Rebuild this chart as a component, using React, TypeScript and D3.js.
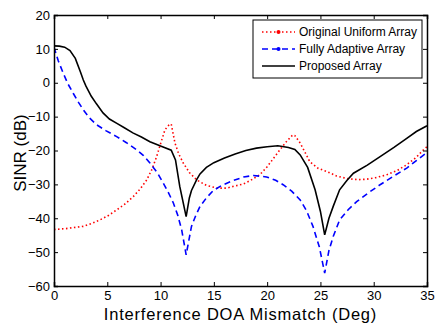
import React, { useEffect, useRef } from 'react';
import * as d3 from 'd3';

// Original Uniform Array (red dotted)
const origX = [0, 1, 2, 2.75, 3.5, 4.3, 5.1, 5.9, 6.7, 7.44, 8.1, 8.7, 9.2, 9.63, 10.0, 10.41, 10.8, 11.0, 11.35, 11.7, 12.13, 12.7, 13.4, 14.3, 15.3, 16.2, 16.8, 17.76, 18.4, 19.3, 20.0, 20.6, 21.2, 21.8, 22.4, 22.6, 23.1, 23.5, 24.0, 24.8, 25.6, 26.5, 27.5, 28.5, 29.3, 30.2, 31.2, 32.2, 33.1, 34.0, 34.6, 35.0];
const origY = [-43.3, -43.1, -42.7, -42.4, -41.6, -40.5, -39.2, -37.5, -35.7, -33.6, -31.3, -28.7, -25.5, -21.8, -18.0, -13.9, -12.4, -12.2, -17.8, -21.0, -23.7, -26.5, -28.7, -30.3, -31.1, -31.1, -30.6, -29.9, -28.9, -27.2, -24.8, -22.3, -19.8, -17.4, -15.4, -15.6, -17.8, -20.2, -23.3, -25.3, -26.2, -27.5, -28.3, -28.6, -28.5, -28.0, -27.2, -25.9, -24.2, -22.0, -20.0, -18.9];

// Fully Adaptive Array (blue dashed)
const adaptX = [0, 0.4, 0.87, 1.3, 1.8, 2.3, 2.75, 3.3, 4.0, 4.9, 5.88, 6.8, 7.76, 8.4, 9.0, 9.7, 10.25, 10.7, 11.2, 11.6, 11.98, 12.4, 12.9, 13.3, 13.7, 14.3, 14.95, 15.8, 16.8, 17.8, 18.7, 19.95, 20.8, 21.5, 22.3, 23.1, 23.7, 24.3, 24.9, 25.4, 25.8, 26.2, 26.8, 27.6, 28.4, 29.5, 30.6, 31.8, 33.1, 34.0, 35.0];
const adaptY = [10.5, 6.5, 2.8, -0.3, -3.1, -5.8, -8.0, -10.3, -12.4, -14.2, -15.9, -17.7, -19.8, -21.5, -23.7, -26.6, -29.6, -32.2, -35.5, -39.0, -43.4, -50.8, -42.4, -39.2, -36.5, -34.0, -31.8, -30.2, -28.9, -27.8, -27.4, -27.8, -28.8, -30.1, -32.0, -34.6, -37.8, -42.4, -48.5, -56.2, -49.5, -45.4, -40.5, -37.5, -35.1, -32.5, -30.1, -27.7, -25.2, -23.0, -20.6];

// Proposed Array (black solid)
const propX = [0, 0.5, 1.0, 1.5, 2.0, 2.5, 2.75, 3.0, 3.5, 4.0, 4.6, 5.2, 5.9, 6.6, 7.4, 8.2, 9.0, 10.0, 11.0, 11.4, 11.8, 12.4, 12.7, 12.9, 13.4, 13.7, 14.3, 15.0, 16.0, 17.0, 18.0, 19.0, 20.0, 21.0, 22.0, 22.6, 23.1, 23.8, 24.5, 25.0, 25.4, 25.8, 26.2, 26.8, 27.5, 28.1, 29.4, 30.6, 31.9, 33.1, 34.0, 35.0];
const propY = [10.9, 10.8, 10.5, 9.5, 7.2, 3.0, 0.8, -1.0, -4.0, -6.3, -8.9, -10.7, -12.0, -13.3, -14.8, -16.0, -17.4, -18.7, -19.9, -22.8, -30.6, -39.5, -34.0, -31.8, -28.5, -26.9, -25.0, -23.6, -22.2, -21.0, -20.0, -19.3, -18.9, -18.6, -19.1, -19.7, -21.3, -25.0, -31.6, -38.0, -44.9, -40.0, -36.5, -31.6, -28.8, -26.7, -24.3, -21.8, -19.1, -16.4, -14.4, -12.7];

const xTicks = [0, 5, 10, 15, 20, 25, 30, 35];
const yTicks = [20, 10, 0, -10, -20, -30, -40, -50, -60];

const seriesNames = ["Original Uniform Array", "Fully Adaptive Array", "Proposed Array"];
const seriesColors = ["#ff0000", "#0000ff", "#000000"];
const seriesDash = ["1.5,2.5", "6,4", null];

const FONT = '"Liberation Sans", Arial, Helvetica, sans-serif';

export default function App() {
    const svgRef = useRef<SVGSVGElement>(null);
    const W = 439;
    const H = 326;
    const margin = { top: 15, right: 12, bottom: 40, left: 54 };
    const width = W - margin.left - margin.right;
    const height = H - margin.top - margin.bottom;

    useEffect(() => {
        const svg = d3.select(svgRef.current);
        svg.selectAll("*").remove();

        const xScale = d3.scaleLinear().domain([0, 35]).range([0, width]);
        const yScale = d3.scaleLinear().domain([-60, 20]).range([height, 0]);

        const g = svg.append("g")
            .attr("transform", `translate(${margin.left}, ${margin.top})`);

        const line = d3.line<[number, number]>()
            .x(d => xScale(d[0]))
            .y(d => yScale(d[1]));

        const series: [number, number][][] = [
            origX.map((x, i) => [x, origY[i]]),
            adaptX.map((x, i) => [x, adaptY[i]]),
            propX.map((x, i) => [x, propY[i]]),
        ];

        g.append("defs").append("clipPath").attr("id", "plotclip")
            .append("rect").attr("width", width).attr("height", height);

        series.forEach((s, i) => {
            g.append("path")
                .datum(s)
                .attr("clip-path", "url(#plotclip)")
                .attr("fill", "none")
                .attr("stroke", seriesColors[i])
                .attr("stroke-width", 1.6)
                .attr("stroke-dasharray", seriesDash[i])
                .attr("d", line);
        });

        // axes, MATLAB style: ticks inward, box all round
        const xAxis = d3.axisBottom(xScale).tickValues(xTicks).tickSize(-4).tickPadding(5);
        const yAxis = d3.axisLeft(yScale).tickValues(yTicks).tickSize(-4).tickPadding(4);
        const xTop = d3.axisTop(xScale).tickValues(xTicks).tickSize(-4).tickFormat(() => "");
        const yRight = d3.axisRight(yScale).tickValues(yTicks).tickSize(-4).tickFormat(() => "");

        const gx = g.append("g").attr("transform", `translate(0, ${height})`).call(xAxis);
        const gy = g.append("g").call(yAxis);
        const gt = g.append("g").call(xTop);
        const gr = g.append("g").attr("transform", `translate(${width}, 0)`).call(yRight);

        [gx, gy, gt, gr].forEach(a => {
            a.select(".domain").attr("stroke", "#000").attr("stroke-width", 1.5);
            a.selectAll(".tick line").attr("stroke", "#000").attr("stroke-width", 1);
            a.selectAll("text")
                .attr("fill", "#000")
                .style("font-family", FONT)
                .style("font-size", "13px");
        });

        // axis labels
        svg.append("text")
            .attr("x", margin.left + width / 2)
            .attr("y", 320)
            .attr("text-anchor", "middle")
            .style("font-family", FONT)
            .style("font-size", "16.5px")
            .style("letter-spacing", "0.8px")
            .text("Interference DOA Mismatch (Deg)");

        svg.append("text")
            .attr("transform", `translate(26, 153) rotate(-90)`)
            .attr("text-anchor", "middle")
            .style("font-family", FONT)
            .style("font-size", "17px")
            .text("SINR (dB)");

        // legend
        const legend = svg.append("g").attr("transform", "translate(253, 20)");
        legend.append("rect")
            .attr("width", 169)
            .attr("height", 58)
            .attr("fill", "#fff")
            .attr("stroke", "#000")
            .attr("stroke-width", 1);

        seriesNames.forEach((name, i) => {
            const yy = 12 + i * 17;
            legend.append("line")
                .attr("x1", 9).attr("x2", 42)
                .attr("y1", yy).attr("y2", yy)
                .attr("stroke", seriesColors[i])
                .attr("stroke-width", 1.6)
                .attr("stroke-dasharray", seriesDash[i]);
            if (i < 2) {
                legend.append("circle")
                    .attr("cx", 25.5).attr("cy", yy).attr("r", 2)
                    .attr("fill", seriesColors[i]);
            }
            legend.append("text")
                .attr("x", 46)
                .attr("y", yy + 4)
                .style("font-family", FONT)
                .style("font-size", "12px")
                .text(name);
        });
    }, []);

    return (
        <svg
            ref={svgRef}
            width={W}
            height={H}
            style={{ position: "absolute", left: 0, top: 0, background: "#fff" }}
        />
    );
}
